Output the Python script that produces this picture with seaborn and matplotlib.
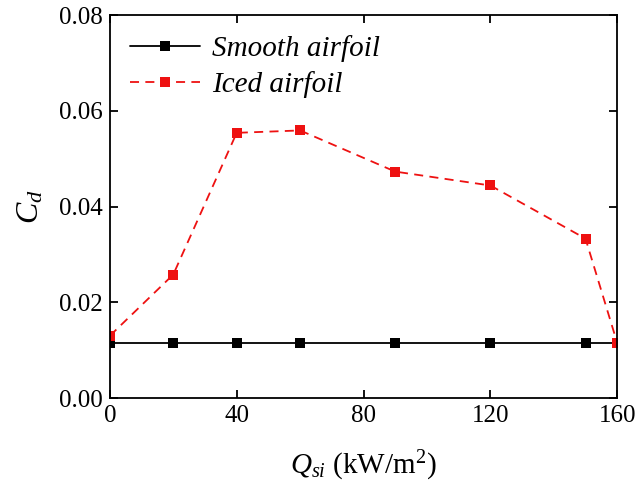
import matplotlib
matplotlib.use("Agg")
import matplotlib.pyplot as plt
import pandas as pd
import seaborn as sns

q_si = [0, 20, 40, 60, 90, 120, 150, 160]
cd_smooth = [0.0115, 0.0115, 0.0115, 0.0115, 0.0115, 0.0115, 0.0115, 0.0115]
cd_iced = [0.013, 0.0258, 0.0554, 0.0559, 0.0473, 0.0444, 0.0333, 0.0115]
series = ["Smooth airfoil", "Iced airfoil"]

df = pd.concat([
    pd.DataFrame({"q": q_si, "cd": cd_smooth, "case": series[0]}),
    pd.DataFrame({"q": q_si, "cd": cd_iced, "case": series[1]}),
])

sns.set_style("ticks")
plt.rcParams["font.family"] = ["Liberation Serif", "DejaVu Serif"]
plt.rcParams["mathtext.fontset"] = "custom"
plt.rcParams["mathtext.rm"] = "Liberation Serif"
plt.rcParams["mathtext.it"] = "Liberation Serif:italic"
for k in ["text.color", "axes.labelcolor", "xtick.color", "ytick.color", "axes.edgecolor"]:
    plt.rcParams[k] = "black"

fig = plt.figure(figsize=(6.35, 4.86), dpi=100)
ax = fig.add_axes([0.173, 0.181, 0.799, 0.788])

sns.lineplot(
    data=df, x="q", y="cd", hue="case", style="case",
    hue_order=series, style_order=series,
    palette={"Smooth airfoil": "black", "Iced airfoil": "#ee1111"},
    dashes={"Smooth airfoil": "", "Iced airfoil": (5, 3.5)},
    markers={"Smooth airfoil": "s", "Iced airfoil": "s"},
    markersize=7, markeredgewidth=0, linewidth=1.3, ax=ax,
)

ax.set_xlim(0, 160)
ax.set_ylim(0, 0.08)
ax.set_xticks([0, 40, 80, 120, 160])
ax.set_yticks([0, 0.02, 0.04, 0.06, 0.08])
ax.set_yticklabels(["0.00", "0.02", "0.04", "0.06", "0.08"])
ax.tick_params(direction="in", top=True, right=True, labelsize=18, width=1.3,
               length=6, pad=5)
for s in ax.spines.values():
    s.set_linewidth(1.3)
    s.set_visible(True)

ax.set_xlabel(r"$Q_{si}$ (kW/m$^2$)", fontsize=21, labelpad=16)
ax.set_ylabel(r"$C_d$", fontsize=23, labelpad=10)

leg = ax.legend(loc="upper left", frameon=False, fontsize=21, handlelength=2.4,
                borderaxespad=0.2, labelspacing=0.3, handletextpad=0.4,
                borderpad=0.5)
for t in leg.get_texts():
    t.set_fontstyle("italic")

fig.savefig("out.png", dpi=100)
